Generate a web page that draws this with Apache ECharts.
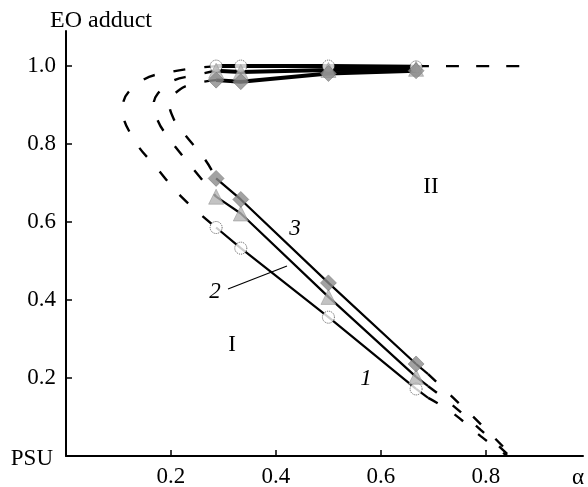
<!DOCTYPE html>
<html><head><meta charset="utf-8">
<script src="https://cdn.jsdelivr.net/npm/echarts@6/dist/echarts.min.js"></script>
<style>html,body{margin:0;padding:0;background:#fff}#c{width:588px;height:487px}</style>
</head><body><div id="c"></div>
<script>
// ---- data ----
const alpha = [0.286, 0.333, 0.5, 0.667];
const lower1 = [0.586, 0.533, 0.356, 0.172];
const lower2 = [0.665, 0.622, 0.408, 0.203];
const lower3 = [0.712, 0.658, 0.444, 0.236];
const upper1 = [1.0, 1.0, 1.0, 0.998];
const upper2 = [0.988, 0.985, 0.990, 0.993];
const upper3 = [0.964, 0.960, 0.981, 0.988];
const nose1 = [[0.286,1.0],[0.20,0.985],[0.14,0.958],[0.108,0.892],[0.128,0.815],[0.174,0.737],[0.222,0.662],[0.286,0.586]];
const nose2 = [[0.286,0.988],[0.24,0.975],[0.205,0.963],[0.175,0.93],[0.167,0.900],[0.175,0.86],[0.19,0.826],[0.23,0.757],[0.286,0.665]];
const nose3 = [[0.286,0.964],[0.245,0.955],[0.215,0.938],[0.197,0.905],[0.205,0.865],[0.222,0.832],[0.265,0.76],[0.286,0.712]];
const ext1 = [[0.667,0.172],[0.69,0.149]];
const ext2 = [[0.667,0.203],[0.69,0.179]];
const ext3 = [[0.667,0.236],[0.69,0.21]];
const tail1 = [[0.69,0.149],[0.734,0.113],[0.79,0.051],[0.841,0]];
const tail2 = [[0.69,0.179],[0.734,0.133],[0.79,0.067],[0.845,0]];
const tail3 = [[0.69,0.21],[0.734,0.154],[0.79,0.082],[0.85,0]];
const upperTail = [[0.667,1.0],[0.88,1.0]];
const xTicks = [0.2, 0.4, 0.6, 0.8];
const yTicks = [0.2, 0.4, 0.6, 0.8, 1.0];

const pairs = (ys) => alpha.map((a, i) => [a, ys[i]]);
const FONT = 'Liberation Serif';

const solid = (d, w) => ({type:'line', data:d, showSymbol:false, silent:true, z:2,
  lineStyle:{color:'#000', width:w}});
const dashed = (d, pat) => ({type:'line', data:d, showSymbol:false, smooth:0.45, silent:true, z:2,
  lineStyle:{color:'#000', width:2.4, type:pat || [12,19]}});

const circleStyle = {color:'#fff', borderColor:'#333', borderWidth:1, borderType:'dotted'};
const triStyle = {color:'#b4b4b4', borderColor:'#8a8a8a', borderWidth:0.6};
const diaStyle = {color:'#8b8b8b', borderColor:'#6a6a6a', borderWidth:0.6};
const marks = (d, sym, size, st, z) => ({type:'scatter', data:d, symbol:sym, symbolSize:size, itemStyle:st, z:z, silent:true});

const chart = echarts.init(document.getElementById('c'), null, {renderer:'canvas'});
chart.setOption({
  animation:false,
  backgroundColor:'#fff',
  grid:{left:66, right:5, top:31, bottom:31, containLabel:false, outerBoundsMode:'none'},
  xAxis:{type:'value', min:0, max:0.985, splitLine:{show:false},
    axisLine:{lineStyle:{color:'#000', width:2}},
    axisTick:{inside:true, length:6, customValues:xTicks, lineStyle:{color:'#000', width:1.5}},
    axisLabel:{customValues:xTicks, formatter:v=>v.toFixed(1), color:'#000', fontFamily:FONT, fontSize:23, margin:9}},
  yAxis:{type:'value', min:0, max:1.09, splitLine:{show:false},
    axisLine:{show:true, lineStyle:{color:'#000', width:2}},
    axisTick:{show:true, inside:true, length:6, customValues:yTicks, lineStyle:{color:'#000', width:1.5}},
    axisLabel:{customValues:yTicks, formatter:v=>v.toFixed(1), color:'#000', fontFamily:FONT, fontSize:23, margin:10}},
  series:[
    dashed(nose1), dashed(nose2), dashed(nose3),
    solid(ext1, 2.2), solid(ext2, 2.2), solid(ext3, 2.2),
    dashed(tail1, [11,20]), dashed(tail2, [11,20]), dashed(tail3, [11,20]),
    dashed(upperTail, [13,17]),
    solid(pairs(lower1), 2.2), solid(pairs(lower2), 2.2), solid(pairs(lower3), 2.2),
    solid(pairs(upper3), 4), solid(pairs(upper2), 4), solid(pairs(upper1), 4),
    marks(pairs(upper1), 'circle', 12, circleStyle, 5),
    marks(pairs(upper2), 'triangle', 15, triStyle, 6),
    marks(pairs(upper3), 'diamond', 16, diaStyle, 7),
    marks(pairs(lower1), 'circle', 12, circleStyle, 5),
    marks(pairs(lower2), 'triangle', 15, triStyle, 6),
    marks(pairs(lower3), 'diamond', 16, diaStyle, 7)
  ],
  graphic:[
    {type:'text', left:50, top:9, style:{text:'EO adduct', font:'24px "Liberation Serif"', fill:'#000'}},
    {type:'text', right:535, top:447, style:{text:'PSU', font:'23px "Liberation Serif"', fill:'#000'}},
    {type:'text', left:572, top:466, style:{text:'α', font:'23px "Liberation Serif"', fill:'#000'}},
    {type:'text', x:232, y:345, style:{text:'I', font:'23px "Liberation Serif"', fill:'#000', align:'center', verticalAlign:'middle'}},
    {type:'text', x:431, y:187, style:{text:'II', font:'23px "Liberation Serif"', fill:'#000', align:'center', verticalAlign:'middle'}},
    {type:'text', x:295, y:229, style:{text:'3', font:'italic 23px "Liberation Serif"', fill:'#000', align:'center', verticalAlign:'middle'}},
    {type:'text', x:215, y:292, style:{text:'2', font:'italic 23px "Liberation Serif"', fill:'#000', align:'center', verticalAlign:'middle'}},
    {type:'text', x:366, y:379, style:{text:'1', font:'italic 23px "Liberation Serif"', fill:'#000', align:'center', verticalAlign:'middle'}},
    {type:'line', shape:{x1:228, y1:289, x2:287, y2:266}, style:{stroke:'#000', lineWidth:1.2}}
  ]
});
</script></body></html>
